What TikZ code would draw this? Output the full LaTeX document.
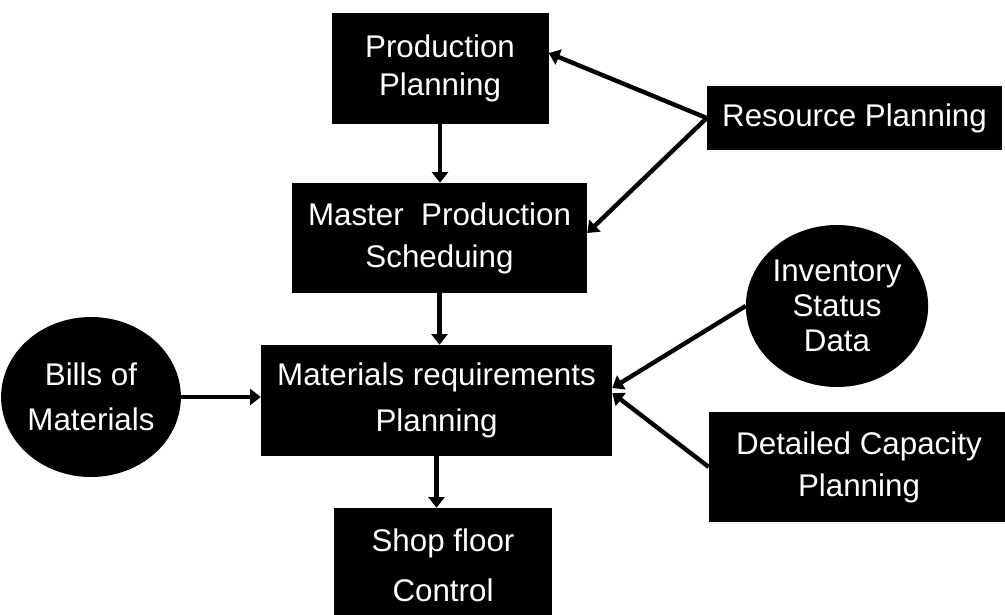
\documentclass[tikz,border=0pt]{standalone}
\usepackage{fontspec}
\setmainfont{Liberation Sans}
\usepackage{tikz}
\usetikzlibrary{shapes.geometric,arrows.meta}

\begin{document}
\begin{tikzpicture}[x=0.75pt,y=-0.75pt,
    box/.style={rectangle,fill=black,text=white,align=center,inner sep=0pt},
    blob/.style={ellipse,fill=black,text=white,align=center,inner sep=0pt},
    lsp/.style={font=\fontsize{23.5pt}{#1}\selectfont},
    link/.style={->,line width=3.3pt},
    >={Triangle[length=8pt,width=12pt]}]
    \useasboundingbox (0,0) rectangle (1005,614);
    \node[box,lsp=28pt,minimum width=162.75pt,minimum height=83.25pt] (pp) at (440,68.5) {Production\\Planning};
    \node[box,lsp=28pt,minimum width=221.25pt,minimum height=48pt] (rp) at (854.5,118) {Resource Planning};
    \node[box,lsp=31.5pt,minimum width=221.25pt,minimum height=82.5pt] (mps) at (439.5,238) {Master\ \ Production\\Scheduing};
    \node[blob,lsp=26pt,minimum width=127.5pt,minimum height=121.5pt] (inv) at (837,306) {Inventory\\Status\\Data};
    \node[blob,lsp=34pt,minimum width=127.5pt,minimum height=120pt] (bom) at (91,397) {Bills of\\Materials};
    \node[box,lsp=35pt,minimum width=263.25pt,minimum height=83.25pt] (mrp) at (436.5,400.5) {Materials requirements\\Planning};
    \node[box,lsp=31.5pt,minimum width=225pt,minimum height=82.5pt] (dcp) at (859,467) {Detailed Capacity\\Planning};
    \node[box,lsp=37.5pt,minimum width=163.5pt,minimum height=85.5pt] (sfc) at (443,565) {Shop floor\\Control};
    % links
    \draw[link] (pp.south) -- (pp.south |- mps.north);
    \draw[link] (rp.west) -- ([yshift=11.6pt]pp.east);
    \draw[link] (rp.west) -- ([yshift=3.75pt]mps.east);
    \draw[link] (mps.south) -- (mps.south |- mrp.north);
    \draw[link] (bom.east) -- (bom.east -| mrp.west);
    \draw[link] (inv.west) -- ([yshift=9.4pt]mrp.east);
    \draw[link] (dcp.west) -- ([yshift=5.6pt]mrp.east);
    \draw[link] (mrp.south) -- (mrp.south |- sfc.north);
\end{tikzpicture}
\end{document}
